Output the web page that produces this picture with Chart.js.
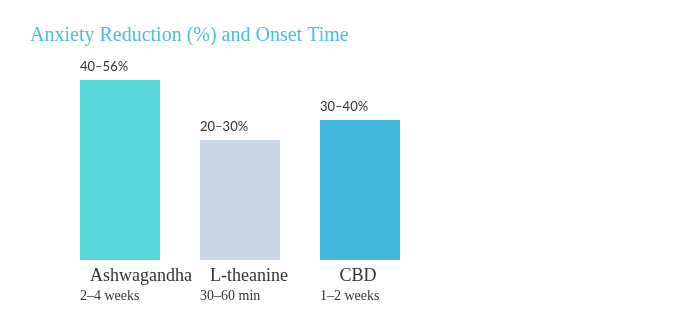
<!DOCTYPE html>
<html>
<head>
<meta charset="utf-8">
<script src="https://cdn.jsdelivr.net/npm/chart.js@4/dist/chart.umd.min.js"></script>
<style>
  html, body { margin: 0; padding: 0; background: #fff; }
  #wrap { width: 700px; height: 320px; position: relative; }
</style>
</head>
<body>
<div id="wrap"><canvas id="chart"></canvas></div>
<script>
// data
var categories = ['Ashwagandha', 'L-theanine', 'CBD'];
var barValues = [45, 30, 35];               // relative bar heights
var reductionLabels = ['40–56%', '20–30%', '30–40%'];
var onsetLabels = ['2–4 weeks', '30–60 min', '1–2 weeks'];
var barColors = ['#56d5db', '#cbd7e4', '#42b8dd'];

// small nudges so category names sit like the original
var nameOffsets = [21, 9, -2];

var textPlugin = {
    id: 'textPlugin',
    afterDatasetsDraw: function (chart) {
        var ctx = chart.ctx;
        var meta = chart.getDatasetMeta(0);
        ctx.save();

        // title
        ctx.fillStyle = '#4bbde0';
        ctx.font = '20px "Liberation Serif", serif';
        ctx.textAlign = 'left';
        ctx.textBaseline = 'alphabetic';
        ctx.fillText('Anxiety Reduction (%) and Onset Time', 30, 41);

        meta.data.forEach(function (bar, i) {
            var left = bar.x - bar.width / 2;

            ctx.fillStyle = '#333';
            ctx.textAlign = 'left';
            ctx.font = '13px Lato, sans-serif';
            ctx.fillText(reductionLabels[i], left, bar.y - 9);

            ctx.textAlign = 'center';
            ctx.font = '18px "Liberation Serif", serif';
            ctx.fillText(categories[i], bar.x + nameOffsets[i], chart.chartArea.bottom + 21);

            ctx.textAlign = 'left';
            ctx.font = '14px "Liberation Serif", serif';
            ctx.fillText(onsetLabels[i], left, chart.chartArea.bottom + 40);
        });
        ctx.restore();
    }
};

new Chart(document.getElementById('chart'), {
    type: 'bar',
    data: {
        labels: categories,
        datasets: [{
            data: barValues,
            backgroundColor: barColors,
            borderWidth: 0,
            barPercentage: 1,
            categoryPercentage: 2 / 3
        }]
    },
    options: {
        responsive: true,
        maintainAspectRatio: false,
        animation: false,
        layout: { padding: { left: 60, right: 280, top: 60, bottom: 60 } },
        plugins: {
            legend: { display: false },
            title: { display: false },
            tooltip: { enabled: false }
        },
        scales: {
            x: { display: false },
            y: { display: false, min: 0, max: 50 }
        }
    },
    plugins: [textPlugin]
});
</script>
</body>
</html>
